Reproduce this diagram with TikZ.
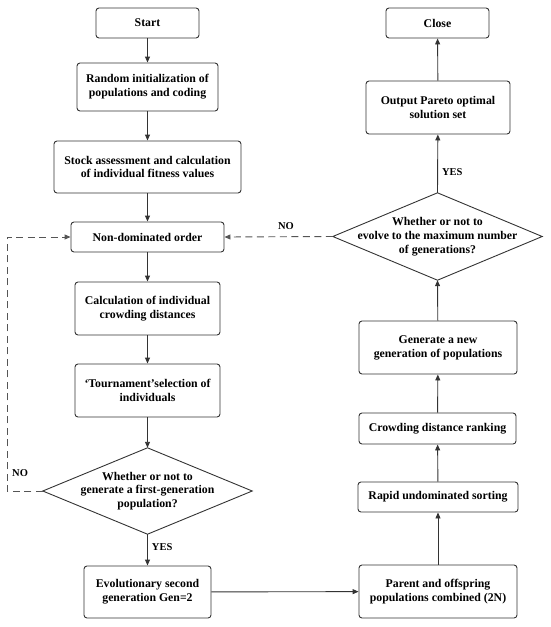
\documentclass[tikz,border=0pt]{standalone}
\usepackage{fontspec}
\setmainfont{Liberation Serif}
\usetikzlibrary{arrows.meta}
\definecolor{ln}{HTML}{333333}
\definecolor{dl}{HTML}{555555}
\begin{document}
\begin{tikzpicture}[x=1pt,y=-1pt,
  font=\bfseries\fontsize{11.8}{13.8}\selectfont,
  box/.style={draw=ln, line width=0.9pt, rounded corners=3pt, align=center, inner sep=0pt, text=black},
  dia/.style={align=center, inner sep=0pt},
  arr/.style={draw=ln, line width=0.9pt, -{Triangle[length=6pt,width=5pt]}},
  darr/.style={draw=dl, line width=0.9pt, dash pattern=on 7pt off 4.5pt, -{Triangle[length=6pt,width=5pt]}},
  lab/.style={font=\bfseries\fontsize{10.5}{12}\selectfont, inner sep=0pt}]
\useasboundingbox (0,0) rectangle (550,627);
% left column
\node[box, minimum width=103pt, minimum height=30pt] (start) at (147.5,23) {Start};
\node[box, minimum width=141pt, minimum height=48pt] (init) at (147.5,87) {Random initialization of\\populations and coding};
\node[box, minimum width=187pt, minimum height=52pt] (stock) at (147.5,167) {Stock assessment and calculation\\of individual fitness values};
\node[box, minimum width=153pt, minimum height=30pt] (nondom) at (147.5,237) {Non-dominated order};
\node[box, minimum width=145pt, minimum height=53pt] (crowd) at (147.5,308.5) {Calculation of individual\\crowding distances};
\node[box, minimum width=145pt, minimum height=53pt] (tourn) at (147.5,390.5) {‘Tournament’selection of\\individuals};
\node[dia, minimum width=209pt, minimum height=86pt] (dia1) at (147.5,491) {Whether or not to\\generate a first-generation\\population?};
\draw[draw=ln, line width=0.9pt] (dia1.north) -- (dia1.east) -- (dia1.south) -- (dia1.west) -- cycle;
\node[box, minimum width=127pt, minimum height=52pt] (evol) at (147.5,592) {Evolutionary second\\generation Gen=2};
% right column
\node[box, minimum width=103pt, minimum height=30pt] (close) at (437.5,23) {Close};
\node[box, minimum width=144pt, minimum height=53pt] (pareto) at (438,107.5) {Output Pareto optimal\\solution set};
\node[dia, minimum width=209pt, minimum height=87pt] (dia2) at (437.5,236.5) {Whether or not to\\evolve to the maximum number\\of generations?};
\draw[draw=ln, line width=0.9pt] (dia2.north) -- (dia2.east) -- (dia2.south) -- (dia2.west) -- cycle;
\node[box, minimum width=158pt, minimum height=53pt] (gen) at (438,347.5) {Generate a new\\generation of populations};
\node[box, minimum width=157pt, minimum height=31pt] (crank) at (437.5,428.5) {Crowding distance ranking};
\node[box, minimum width=160pt, minimum height=30pt] (rapid) at (438,497) {Rapid undominated sorting};
\node[box, minimum width=158pt, minimum height=53pt] (parent) at (438,591.5) {Parent and offspring\\populations combined (2N)};
% connectors left
\draw[arr] (start) -- (init);
\draw[arr] (init) -- (stock);
\draw[arr] (stock) -- (nondom);
\draw[arr] (nondom) -- (crowd);
\draw[arr] (crowd) -- (tourn);
\draw[arr] (tourn) -- (dia1.north);
\draw[arr] (dia1.south) -- node[lab, right=4pt, pos=0.4] (yes1) {YES} (evol);
\coordinate (lb) at (7,491);
\coordinate (lt) at (7,237);
\draw[darr] (dia1.west) -- (lb) -- (lt) -- (nondom.west);
\node[lab, anchor=west] (no1) at (12,473) {NO};
% bottom link
\draw[arr] (evol) -- (parent);
% right column
\draw[arr] (parent) -- (rapid);
\draw[arr] (rapid) -- (crank);
\draw[arr] (crank) -- (gen);
\draw[arr] (gen) -- (dia2.south);
\draw[arr] (dia2.north) -- node[lab, right=4pt, pos=0.35] (yes2) {YES} (pareto);
\draw[arr] (pareto) -- (close);
\draw[darr] (dia2.west) -- (nondom.east);
\node[lab] (no2) at (286,226) {NO};
\end{tikzpicture}
\end{document}
